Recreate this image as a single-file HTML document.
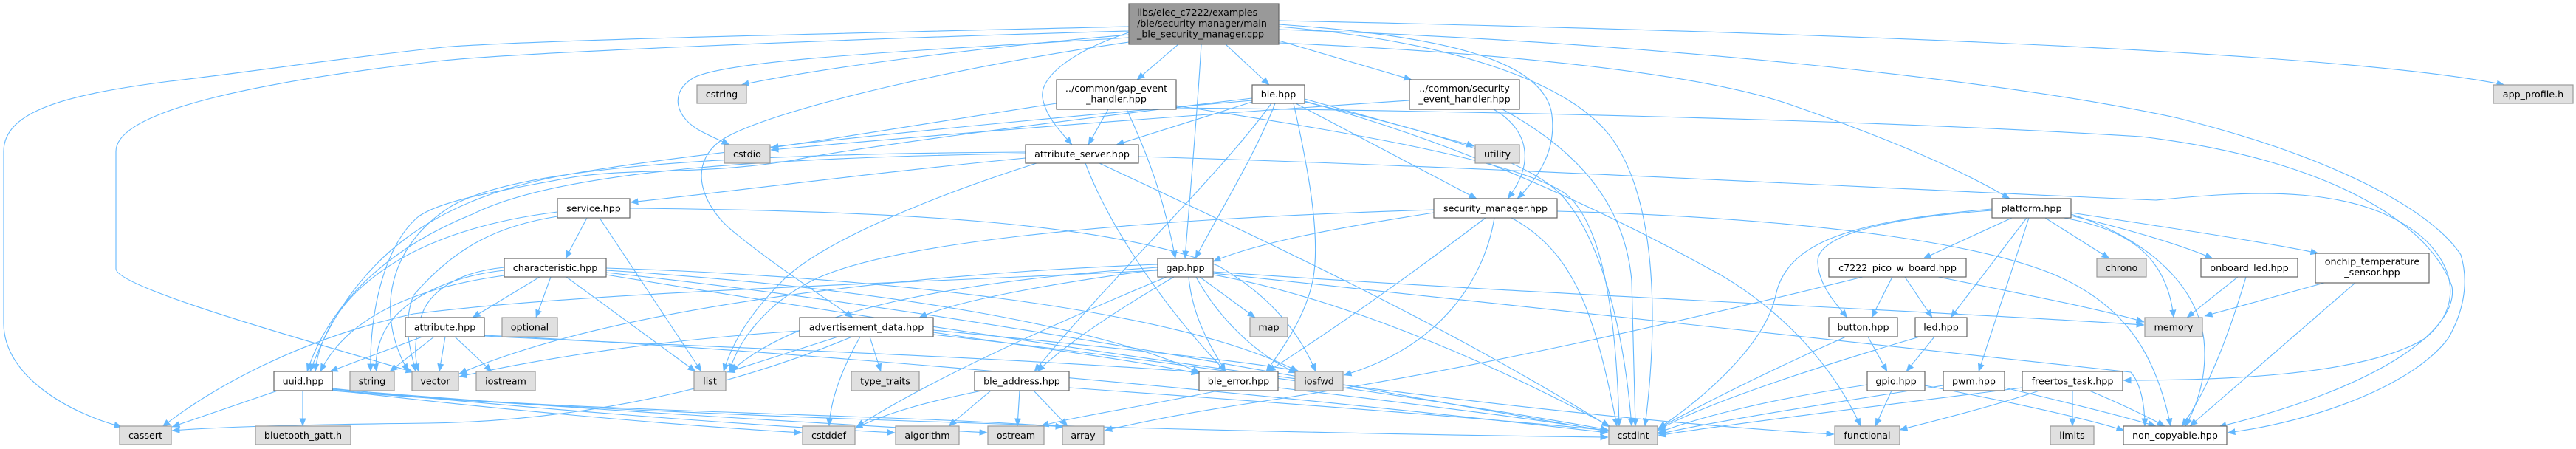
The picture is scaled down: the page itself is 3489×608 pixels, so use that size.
<!DOCTYPE html>
<html>
<head>
<meta charset="utf-8">
<style>
html,body{margin:0;padding:0;background:#fff;}
svg{display:block;}
.e{fill:none;stroke:#63b8ff;stroke-width:1.1;marker-end:url(#ah);}
.n{fill:#fff;stroke:#666;stroke-width:1.2;}
.s{fill:#e0e0e0;stroke:#999;stroke-width:1.2;}
.m{fill:#999;stroke:#666;stroke-width:1.2;}
text{font-family:"DejaVu Sans","Liberation Sans",sans-serif;font-size:12.7px;fill:#000;text-anchor:middle;}
text.l{text-anchor:start;}
</style>
</head>
<body>
<svg width="3489" height="608" viewBox="0 0 3489 608" xmlns="http://www.w3.org/2000/svg">
<defs>
<marker id="ah" markerWidth="11" markerHeight="9" refX="10.5" refY="4.5" orient="auto" markerUnits="userSpaceOnUse">
<path d="M0,0 L11,4.5 L0,9 z" fill="#63b8ff"/>
</marker>
</defs>
<g>
<!-- main -->
<path class="e" d="M1529,36 C1100,46 700,55 600,64 C450,80 320,100 230,110 C90,128 5,150 5,205 L5,438 C5,510 95,560 165,578"/>
<path class="e" d="M1529,42 C1100,54 700,72 600,82 C350,110 157,150 157,205 L157,364 C157,390 430,465 560,504"/>
<path class="e" d="M1529,47 C1350,62 1120,90 1004,115"/>
<path class="e" d="M1529,51 C1250,68 990,80 940,105 C905,125 915,160 950,178 C965,186 978,191 988,196"/>
<path class="e" d="M1529,57 C1300,90 1060,145 985,185 C930,215 945,275 995,315 C1050,360 1120,405 1155,430"/>
<path class="e" d="M1596,60 L1540,108"/>
<path class="e" d="M1529,44 C1450,70 1408,105 1412,132 C1416,158 1438,180 1452,196"/>
<path class="e" d="M1627,60 C1622,150 1612,260 1605,350"/>
<path class="e" d="M1660,60 L1719,115"/>
<path class="e" d="M1732,55 L1912,108"/>
<path class="e" d="M1732,33 C1950,48 2085,80 2101,150 C2110,200 2085,240 2055,269"/>
<path class="e" d="M1732,36 C1960,55 2130,110 2185,190 C2240,270 2248,420 2228,577"/>
<path class="e" d="M1732,58 C2050,72 2300,100 2420,140 C2560,188 2660,232 2722,269"/>
<path class="e" d="M1732,28 C2300,40 3150,65 3392,115"/>
<path class="e" d="M1732,40 C2200,55 2700,105 2950,160 C3150,210 3290,280 3333,345 C3345,385 3335,425 3316,458 C3270,520 3140,570 3017,586"/>
<!-- gap_event_handler -->
<path class="e" d="M1501,148 L1474,196"/>
<path class="e" d="M1526,148 C1550,200 1575,260 1592,350"/>
<path class="e" d="M1431,140 C1300,160 1150,185 1044,200"/>
<path class="e" d="M1593,143 C1800,175 2050,215 2120,262 C2175,305 2190,450 2193,577"/>
<path class="e" d="M1593,146 C1950,150 2500,160 2900,185 C3150,215 3290,300 3321,388 C3330,440 3240,520 3005,578"/>
<!-- ble -->
<path class="e" d="M1696,138 L1512,196"/>
<path class="e" d="M1727,140 C1700,210 1650,290 1619,350"/>
<path class="e" d="M1722,140 C1650,240 1500,380 1401,503"/>
<path class="e" d="M1752,140 C1770,220 1790,320 1778,380 C1768,430 1735,475 1715,503"/>
<path class="e" d="M1696,133 C1400,168 1160,200 1074,217 C950,238 850,226 764,242 C680,258 600,270 567,293 C522,330 500,420 502,503"/>
<path class="e" d="M1767,134 L1997,198"/>
<path class="e" d="M1755,140 L2000,269"/>
<path class="e" d="M1767,137 C2000,200 2200,300 2330,372 C2420,425 2485,500 2520,577"/>
<path class="e" d="M1696,136 C1300,170 900,210 750,240 C600,270 480,340 420,503"/>
<path class="e" d="M1767,138 C1950,180 2080,220 2120,270 C2170,330 2200,450 2210,577"/>
<!-- security_event_handler -->
<path class="e" d="M2023,148 C2070,175 2080,220 2042,269"/>
<path class="e" d="M2035,148 C2130,200 2200,270 2210,380 L2215,577"/>
<path class="e" d="M1909,136 C1700,150 1350,175 1044,203"/>
<!-- attribute_server -->
<path class="e" d="M1389,214 C1200,232 1000,258 854,274"/>
<path class="e" d="M1404,221 C1250,270 1110,330 1060,380 C1010,430 990,470 980,503"/>
<path class="e" d="M1470,221 C1500,300 1570,410 1660,503"/>
<path class="e" d="M1489,221 C1700,320 1960,440 2180,578"/>
<path class="e" d="M1542,212 C2000,225 2600,258 2920,271 C3050,258 3200,248 3285,325 C3330,370 3330,420 3285,458 C3200,510 3000,515 2876,515"/>
<path class="e" d="M1389,208 C1050,213 760,230 640,290 C540,330 450,400 416,503"/>
<path class="e" d="M1389,206 C1000,208 700,225 610,280 C530,330 505,420 553,503"/>
<!-- service -->
<path class="e" d="M795,295 L766,350"/>
<path class="e" d="M812,295 L950,503"/>
<path class="e" d="M755,287 C650,300 560,330 500,380 C450,420 430,470 427,503"/>
<path class="e" d="M755,293 C680,305 620,330 560,400 C545,440 555,470 563,503"/>
<path class="e" d="M853,282 C1200,285 1500,300 1650,360 C1720,400 1760,450 1782,503"/>
<!-- characteristic -->
<path class="e" d="M731,375 L640,430"/>
<path class="e" d="M746,375 L726,430"/>
<path class="e" d="M767,375 L942,503"/>
<path class="e" d="M683,373 C560,390 470,430 434,503"/>
<path class="e" d="M683,362 C620,368 580,395 570,430 C562,460 560,480 567,503"/>
<path class="e" d="M683,366 C600,375 540,410 520,450 C510,470 508,490 510,503"/>
<path class="e" d="M821,366 C1200,390 1500,445 1625,505"/>
<path class="e" d="M821,369 C1300,420 1800,520 2178,584"/>
<path class="e" d="M821,372 C1300,450 2000,560 2484,588"/>
<path class="e" d="M821,363 C1200,375 1600,420 1758,503"/>
<!-- attribute -->
<path class="e" d="M572,456 L447,503"/>
<path class="e" d="M588,456 L528,503"/>
<path class="e" d="M603,456 L595,503"/>
<path class="e" d="M616,456 L666,503"/>
<path class="e" d="M656,454 C1000,470 1600,520 2178,586"/>
<path class="e" d="M656,455 C900,468 1300,480 1624,504"/>
<!-- advertisement_data -->
<path class="e" d="M1264,450 C1400,470 1550,490 1624,506"/>
<path class="e" d="M1083,448 C900,460 750,482 622,510"/>
<path class="e" d="M1135,456 L985,504"/>
<path class="e" d="M1178,456 L1193,503"/>
<path class="e" d="M1165,456 C1140,500 1125,540 1123,577"/>
<path class="e" d="M1264,453 C1600,490 2000,550 2178,582"/>
<path class="e" d="M1154,456 C1000,520 800,570 580,573 C400,575 300,578 233,583"/>
<path class="e" d="M1264,447 C1500,470 1700,490 1760,503"/>
<!-- gap -->
<path class="e" d="M1568,365 C1450,380 1300,405 1245,430"/>
<path class="e" d="M1590,375 C1530,410 1450,460 1405,503"/>
<path class="e" d="M1610,375 C1615,430 1640,470 1660,503"/>
<path class="e" d="M1625,375 L1700,430"/>
<path class="e" d="M1620,375 C1650,430 1700,480 1756,505"/>
<path class="e" d="M1643,372 C1800,400 2000,480 2180,577"/>
<path class="e" d="M1643,368 C2100,400 2600,420 2904,440"/>
<path class="e" d="M1643,370 C2100,420 2700,480 2886,504 C2900,520 2905,550 2905,577"/>
<path class="e" d="M1568,362 C1300,380 1080,420 990,503"/>
<path class="e" d="M1568,358 C1200,372 820,420 622,506"/>
<path class="e" d="M1580,375 C1400,450 1250,520 1160,578"/>
<path class="e" d="M1568,366 C1200,385 800,395 560,425 C400,460 280,530 220,578"/>
<!-- ble_address -->
<path class="e" d="M1342,529 L1285,577"/>
<path class="e" d="M1330,529 C1250,545 1200,560 1158,580"/>
<path class="e" d="M1381,529 L1378,577"/>
<path class="e" d="M1400,529 L1446,577"/>
<path class="e" d="M1448,525 C1800,550 2050,570 2179,583"/>
<!-- ble_error -->
<path class="e" d="M1650,529 C1550,550 1450,565 1410,577"/>
<path class="e" d="M1731,525 C1900,545 2100,570 2179,584"/>
<!-- uuid -->
<path class="e" d="M376,529 L233,578"/>
<path class="e" d="M410,529 L410,577"/>
<path class="e" d="M450,526 C700,552 1000,575 1212,586"/>
<path class="e" d="M450,528 C800,560 1200,560 1440,578"/>
<path class="e" d="M450,528 C700,558 950,578 1086,586"/>
<path class="e" d="M450,529 C900,568 1800,588 2178,592"/>
<path class="e" d="M450,527 C800,556 1100,572 1337,586"/>
<!-- security_manager -->
<path class="e" d="M1942,288 C1800,310 1700,330 1643,354"/>
<path class="e" d="M2012,295 C1900,380 1800,450 1717,503"/>
<path class="e" d="M2024,295 C2010,380 1950,470 1820,508"/>
<path class="e" d="M2047,295 C2130,340 2160,420 2190,577"/>
<path class="e" d="M1942,284 C1500,298 1200,330 1100,380 C1040,410 1000,460 988,503"/>
<path class="e" d="M2109,286 C2450,295 2700,330 2800,380 C2880,420 2920,480 2940,577"/>
<!-- platform -->
<path class="e" d="M2725,295 L2605,350"/>
<path class="e" d="M2698,285 C2550,295 2460,320 2462,355 C2463,385 2485,410 2502,430"/>
<path class="e" d="M2745,295 L2642,430"/>
<path class="e" d="M2748,295 L2680,503"/>
<path class="e" d="M2770,295 L2857,350"/>
<path class="e" d="M2795,295 C2880,310 2935,345 2944,430"/>
<path class="e" d="M2805,292 C2880,310 2950,330 2997,350"/>
<path class="e" d="M2805,288 C2950,310 3080,330 3140,343"/>
<path class="e" d="M2698,283 C2500,300 2420,330 2405,400 C2390,470 2300,545 2246,580"/>
<path class="e" d="M2805,290 C2900,320 2975,380 2985,460 C2990,510 2975,550 2960,577"/>
<!-- c7222 -->
<path class="e" d="M2563,375 L2535,430"/>
<path class="e" d="M2580,375 L2617,430"/>
<path class="e" d="M2625,375 C2750,400 2850,420 2904,436"/>
<path class="e" d="M2523,375 C2300,430 2000,500 1700,545 C1600,560 1530,575 1496,583"/>
<!-- button / led / gpio / pwm / freertos -->
<path class="e" d="M2530,456 L2556,503"/>
<path class="e" d="M2500,456 C2400,500 2300,550 2245,581"/>
<path class="e" d="M2620,456 L2582,503"/>
<path class="e" d="M2600,456 C2450,500 2300,550 2245,583"/>
<path class="e" d="M2562,529 L2540,577"/>
<path class="e" d="M2529,521 C2400,540 2300,565 2246,586"/>
<path class="e" d="M2607,522 C2700,540 2820,565 2877,583"/>
<path class="e" d="M2632,522 C2450,550 2300,575 2246,588"/>
<path class="e" d="M2715,525 C2800,545 2880,565 2920,577"/>
<path class="e" d="M2762,529 C2700,550 2620,570 2573,582"/>
<path class="e" d="M2807,529 L2807,577"/>
<path class="e" d="M2830,529 C2880,550 2910,565 2932,577"/>
<path class="e" d="M2739,525 C2500,555 2300,580 2246,590"/>
<!-- onboard_led / onchip -->
<path class="e" d="M3031,375 L2962,430"/>
<path class="e" d="M3042,375 C3020,450 2990,530 2955,577"/>
<path class="e" d="M3148,383 L2986,428"/>
<path class="e" d="M3190,383 L2966,577"/>
</g>

<g>
<!-- main node -->
<rect class="m" x="1529" y="5" width="203" height="55"/>
<text class="l" x="1540" y="21">libs/elec_c7222/examples</text>
<text class="l" x="1540" y="36">/ble/security-manager/main</text>
<text class="l" x="1540" y="50.5">_ble_security_manager.cpp</text>

<!-- row 1 -->
<rect class="n" x="1431" y="108" width="162" height="40"/>
<text x="1512" y="124">../common/gap_event</text>
<text x="1512" y="138.5">_handler.hpp</text>
<rect class="n" x="1696" y="115" width="71" height="25"/>
<text x="1731.5" y="132">ble.hpp</text>
<rect class="n" x="1909" y="108" width="149" height="40"/>
<text x="1983.5" y="124">../common/security</text>
<text x="1983.5" y="138.5">_event_handler.hpp</text>
<rect class="s" x="944" y="115" width="67" height="25"/>
<text x="977.5" y="132">cstring</text>
<rect class="s" x="3377" y="115" width="108" height="25"/>
<text x="3431" y="132">app_profile.h</text>

<!-- row 2 -->
<rect class="s" x="981" y="196" width="62" height="25"/>
<text x="1012" y="213">cstdio</text>
<rect class="n" x="1389" y="196" width="153" height="25"/>
<text x="1465.5" y="213">attribute_server.hpp</text>
<rect class="s" x="1998" y="196" width="60" height="25"/>
<text x="2028" y="213">utility</text>

<!-- row 3 -->
<rect class="n" x="755" y="269" width="98" height="26"/>
<text x="804" y="286.5">service.hpp</text>
<rect class="n" x="1942" y="269" width="167" height="26"/>
<text x="2025.5" y="286.5">security_manager.hpp</text>
<rect class="n" x="2698" y="269" width="107" height="26"/>
<text x="2751.5" y="286.5">platform.hpp</text>

<!-- row 4 -->
<rect class="n" x="683" y="350" width="138" height="25"/>
<text x="752" y="367">characteristic.hpp</text>
<rect class="n" x="1568" y="350" width="75" height="25"/>
<text x="1605.5" y="367">gap.hpp</text>
<rect class="n" x="2477" y="350" width="186" height="25"/>
<text x="2570" y="367">c7222_pico_w_board.hpp</text>
<rect class="s" x="2840" y="350" width="67" height="25"/>
<text x="2873.5" y="367">chrono</text>
<rect class="n" x="2981" y="350" width="131" height="25"/>
<text x="3046.5" y="367">onboard_led.hpp</text>
<rect class="n" x="3136" y="343" width="154" height="40"/>
<text x="3213" y="358.5">onchip_temperature</text>
<text x="3213" y="373">_sensor.hpp</text>

<!-- row 5 -->
<rect class="n" x="549" y="430" width="107" height="26"/>
<text x="602.5" y="447.5">attribute.hpp</text>
<rect class="s" x="680" y="430" width="75" height="26"/>
<text x="717.5" y="447.5">optional</text>
<rect class="n" x="1083" y="430" width="181" height="26"/>
<text x="1173.5" y="447.5">advertisement_data.hpp</text>
<rect class="s" x="1693" y="430" width="51" height="26"/>
<text x="1718.5" y="447.5">map</text>
<rect class="n" x="2477" y="430" width="93" height="26"/>
<text x="2523.5" y="447.5">button.hpp</text>
<rect class="n" x="2594" y="430" width="70" height="26"/>
<text x="2629" y="447.5">led.hpp</text>
<rect class="s" x="2905" y="430" width="78" height="26"/>
<text x="2944" y="447.5">memory</text>

<!-- row 6 -->
<rect class="n" x="371" y="503" width="79" height="26"/>
<text x="410.5" y="520.5">uuid.hpp</text>
<rect class="s" x="474" y="503" width="60" height="26"/>
<text x="504" y="520.5">string</text>
<rect class="s" x="558" y="503" width="63" height="26"/>
<text x="589.5" y="520.5">vector</text>
<rect class="s" x="645" y="503" width="80" height="26"/>
<text x="685" y="520.5">iostream</text>
<rect class="s" x="940" y="503" width="43" height="26"/>
<text x="961.5" y="520.5">list</text>
<rect class="s" x="1153" y="503" width="92" height="26"/>
<text x="1199" y="520.5">type_traits</text>
<rect class="n" x="1320" y="503" width="128" height="26"/>
<text x="1384" y="520.5">ble_address.hpp</text>
<rect class="n" x="1624" y="503" width="107" height="26"/>
<text x="1677.5" y="520.5">ble_error.hpp</text>
<rect class="s" x="1754" y="503" width="65" height="26"/>
<text x="1786.5" y="520.5">iosfwd</text>
<rect class="n" x="2529" y="503" width="78" height="26"/>
<text x="2568" y="520.5">gpio.hpp</text>
<rect class="n" x="2632" y="503" width="83" height="26"/>
<text x="2673.5" y="520.5">pwm.hpp</text>
<rect class="n" x="2739" y="503" width="136" height="26"/>
<text x="2807" y="520.5">freertos_task.hpp</text>

<!-- row 7 -->
<rect class="s" x="162" y="577" width="70" height="25"/>
<text x="197" y="594">cassert</text>
<rect class="s" x="346" y="577" width="129" height="25"/>
<text x="410.5" y="594">bluetooth_gatt.h</text>
<rect class="s" x="1087" y="577" width="71" height="25"/>
<text x="1122.5" y="594">cstddef</text>
<rect class="s" x="1213" y="577" width="86" height="25"/>
<text x="1256" y="594">algorithm</text>
<rect class="s" x="1338" y="577" width="76" height="25"/>
<text x="1376" y="594">ostream</text>
<rect class="s" x="1439" y="577" width="56" height="25"/>
<text x="1467" y="594">array</text>
<rect class="s" x="2179" y="577" width="66" height="25"/>
<text x="2212" y="594">cstdint</text>
<rect class="s" x="2485" y="577" width="88" height="25"/>
<text x="2529" y="594">functional</text>
<rect class="s" x="2777" y="577" width="59" height="25"/>
<text x="2806.5" y="594">limits</text>
<rect class="n" x="2876" y="577" width="140" height="25"/>
<text x="2946" y="594">non_copyable.hpp</text>
</g>
</svg>
</body>
</html>
